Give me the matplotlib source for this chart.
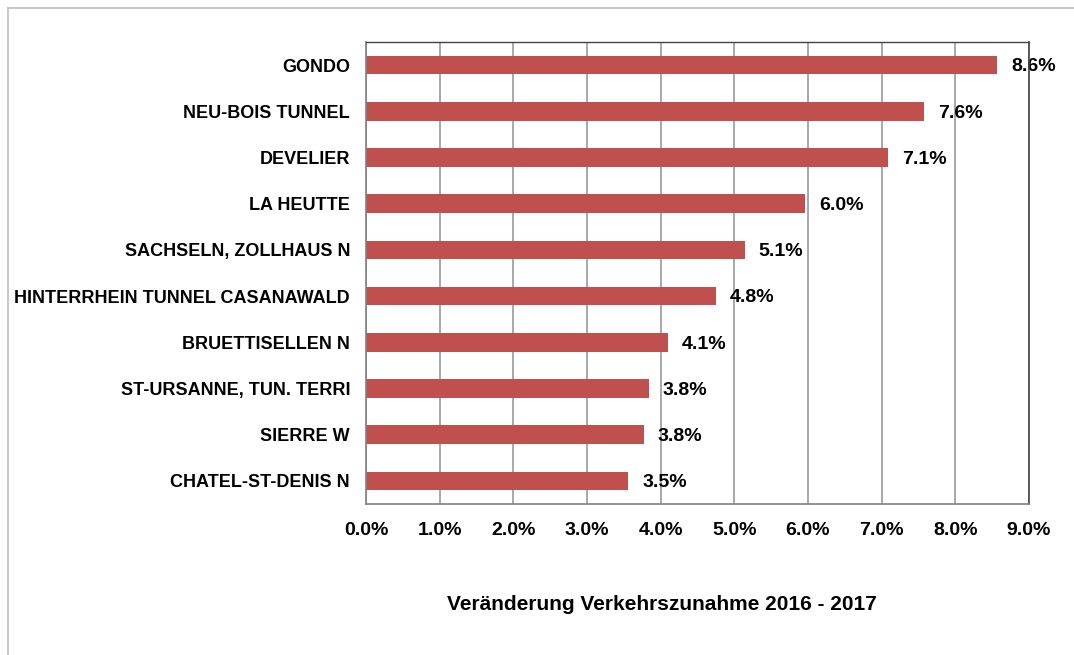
import matplotlib
matplotlib.use("Agg")
import matplotlib.pyplot as plt
from matplotlib.lines import Line2D
from matplotlib.ticker import FuncFormatter, MultipleLocator

categories = ["GONDO", "NEU-BOIS TUNNEL", "DEVELIER", "LA HEUTTE", "SACHSELN, ZOLLHAUS N",
              "HINTERRHEIN TUNNEL CASANAWALD", "BRUETTISELLEN N", "ST-URSANNE, TUN. TERRI",
              "SIERRE W", "CHATEL-ST-DENIS N"]
values = [8.57, 7.57, 7.09, 5.96, 5.14, 4.75, 4.10, 3.84, 3.77, 3.56]
labels = ["8.6%", "7.6%", "7.1%", "6.0%", "5.1%", "4.8%", "4.1%", "3.8%", "3.8%", "3.5%"]

plt.rcParams['font.family'] = ['Liberation Sans', 'DejaVu Sans']

W, H = 1074, 655
fig = plt.figure(figsize=(W/100, H/100), dpi=100)
ax = fig.add_axes([366/W, 1-504/H, (1029-366)/W, (504-42)/H])

y = list(range(len(categories)))
ax.barh(y, values, height=0.4, color="#C0504D", zorder=2)
for yi, v, lab in zip(y, values, labels):
    ax.text(v + 0.19, yi + 0.04, lab, va="center", ha="left", fontsize=14, fontweight="bold", zorder=1)

ax.set_xlim(0, 9)
ax.set_ylim(len(categories) - 0.5, -0.5)
ax.set_yticks(y)
ax.set_yticklabels(categories, fontsize=13, fontweight="bold")
ax.xaxis.set_major_locator(MultipleLocator(1))
ax.xaxis.set_major_formatter(FuncFormatter(lambda x, p: f"{x:.1f}%"))
for t in ax.get_xticklabels():
    t.set_fontsize(14)
    t.set_fontweight("bold")
ax.tick_params(axis="x", length=0, pad=13)
ax.tick_params(axis="y", length=0, pad=11.5)
ax.grid(axis="x", color="#999999", linewidth=1.2, zorder=0)
ax.set_axisbelow(True)
for s in ax.spines.values():
    s.set_color("#808080")
    s.set_linewidth(1.2)
ax.spines["top"].set_color("#444444")
ax.spines["right"].set_color("#444444")
ax.spines["top"].set_linewidth(1.0)

fig.text(662/W, 1-604/H, "Veränderung Verkehrszunahme 2016 - 2017", ha="center", va="center",
         fontsize=15, fontweight="bold")

# outer frame (left and top)
fig.add_artist(Line2D([8/W, 8/W], [0, 1-8/H], color="#BFBFBF", linewidth=1.2, transform=fig.transFigure))
fig.add_artist(Line2D([8/W, 1], [1-8/H, 1-8/H], color="#BFBFBF", linewidth=1.2, transform=fig.transFigure))

fig.savefig("out.png", dpi=100)
